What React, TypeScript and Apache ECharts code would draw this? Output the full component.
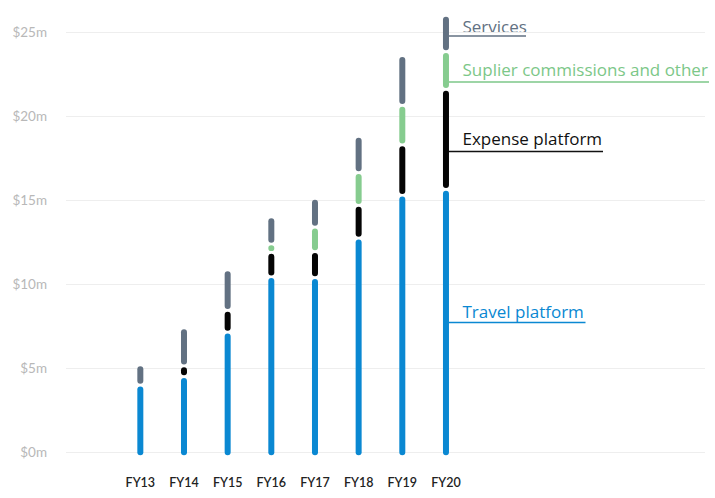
import React, { useEffect, useRef } from "react";
import * as echarts from "echarts";

// Revenue by line of business, $m per fiscal year (stacked bottom → top)
const categories = ["FY13", "FY14", "FY15", "FY16", "FY17", "FY18", "FY19", "FY20"];
const travelPlatform = [4.0, 4.5, 7.15, 10.45, 10.4, 12.75, 15.3, 15.65];
const expensePlatform = [0, 0.65, 1.3, 1.45, 1.55, 1.95, 3.0, 5.95];
const supplierCommissions = [0, 0, 0, 0.5, 1.45, 1.95, 2.35, 2.25];
const services = [0.95, 2.0, 2.15, 1.35, 1.45, 1.9, 2.7, 1.9];

const yMin = 0;
const yMax = 25;
const yStep = 5;

const FONT = "Lato, 'Open Sans', sans-serif";
const CALLOUT_FONT = "'Open Sans', Lato, sans-serif";

const layers = [
  { name: "Travel platform", values: travelPlatform, color: "#0a88d2" },
  { name: "Expense platform", values: expensePlatform, color: "#050505" },
  { name: "Suplier commissions and other", values: supplierCommissions, color: "#86cc8f" },
  { name: "Services", values: services, color: "#627182" },
];

const BAR_W = 6;
const CAP = 3; // round cap overhang at the outer ends of a column
const GAP = 1.35; // half of the gap between two stacked segments

function buildSegments() {
  const totals = categories.map((_, i) => layers.reduce((s, l) => s + l.values[i], 0));
  const base = categories.map(() => 0);
  return layers.map((layer) =>
    categories.map((_, i) => {
      const lo = base[i];
      const hi = lo + layer.values[i];
      base[i] = hi;
      const isTop = layer.values[i] > 0 && Math.abs(hi - totals[i]) < 1e-9 ? 1 : 0;
      return [i, lo, hi, isTop];
    })
  );
}

function renderSegment(_params: any, api: any) {
  const i = api.value(0);
  const lo = api.value(1);
  const hi = api.value(2);
  const isTop = api.value(3);
  if (hi - lo <= 0) return null;
  const [cx, yLo] = api.coord([i, lo]);
  const yHi = api.coord([i, hi])[1];
  const bottom = lo === 0 ? yLo + CAP : yLo - GAP;
  const top = isTop ? yHi - CAP : yHi + GAP;
  const h = Math.max(bottom - top, 1);
  return {
    type: "rect",
    shape: { x: cx - BAR_W / 2, y: top, width: BAR_W, height: h, r: Math.min(BAR_W / 2, h / 2) },
    style: api.style(),
  };
}

// Call-out labels beside the last column
const callouts = [
  { text: "Services", color: "#627182", textY: 26, lineY: 36, lineEnd: 526 },
  { text: "Suplier commissions and other", color: "#7cc788", textY: 69.5, lineY: 82, lineEnd: 709 },
  { text: "Expense platform", color: "#111111", textY: 138.5, lineY: 151.5, lineEnd: 603 },
  { text: "Travel platform", color: "#0a88d2", textY: 311.5, lineY: 322.5, lineEnd: 585.5 },
];

export default function App() {
  const ref = useRef<HTMLDivElement>(null);

  useEffect(() => {
    if (!ref.current) return;
    const chart = echarts.init(ref.current, undefined, { renderer: "svg" });
    const segments = buildSegments();

    const graphic: any[] = [];
    callouts.forEach((c) => {
      graphic.push({
        type: "line",
        shape: { x1: 449, y1: c.lineY, x2: c.lineEnd, y2: c.lineY },
        style: { stroke: c.color, lineWidth: 1.5 },
        silent: true,
      });
      graphic.push({
        type: "text",
        x: 462.5,
        y: c.textY,
        style: {
          text: c.text,
          fill: c.color,
          fontSize: 17,
          fontFamily: CALLOUT_FONT,
          verticalAlign: "middle",
          align: "left",
        },
        silent: true,
      });
    });

    chart.setOption({
      animation: false,
      backgroundColor: "#ffffff",
      grid: [
        { left: 66, right: 10, top: 32.3, bottom: 45.7 },
        { left: 118.5, right: 247.2, top: 32.3, bottom: 45.7 },
      ],
      xAxis: [
        { gridIndex: 0, type: "value", min: 0, max: 1, show: false },
        {
          gridIndex: 1,
          type: "category",
          data: categories,
          axisLine: { show: false },
          axisTick: { show: false },
          axisLabel: {
            margin: 24,
            color: "#222222",
            fontSize: 12.5,
            fontWeight: 600,
            fontFamily: FONT,
          },
        },
      ],
      yAxis: [
        {
          gridIndex: 0,
          type: "value",
          min: yMin,
          max: yMax,
          interval: yStep,
          axisLine: { show: false },
          axisTick: { show: false },
          axisLabel: {
            formatter: (v: number) => `$${v}m`,
            color: "#b8b8b8",
            fontSize: 13.5,
            fontFamily: FONT,
            margin: 19,
            padding: [0, 0, 4, 0],
          },
          splitLine: { lineStyle: { color: "#eeeeee", width: 1 } },
        },
        { gridIndex: 1, type: "value", min: yMin, max: yMax, interval: yStep, show: false },
      ],
      series: layers.map((layer, k) => ({
        type: "custom",
        name: layer.name,
        xAxisIndex: 1,
        yAxisIndex: 1,
        clip: false,
        itemStyle: { color: layer.color },
        encode: { x: 0, y: [1, 2] },
        data: segments[k],
        renderItem: renderSegment,
      })),
      graphic,
    });

    return () => chart.dispose();
  }, []);

  return (
    <div
      ref={ref}
      style={{ position: "fixed", left: 0, top: 0, width: 715, height: 498, background: "#fff" }}
    />
  );
}
